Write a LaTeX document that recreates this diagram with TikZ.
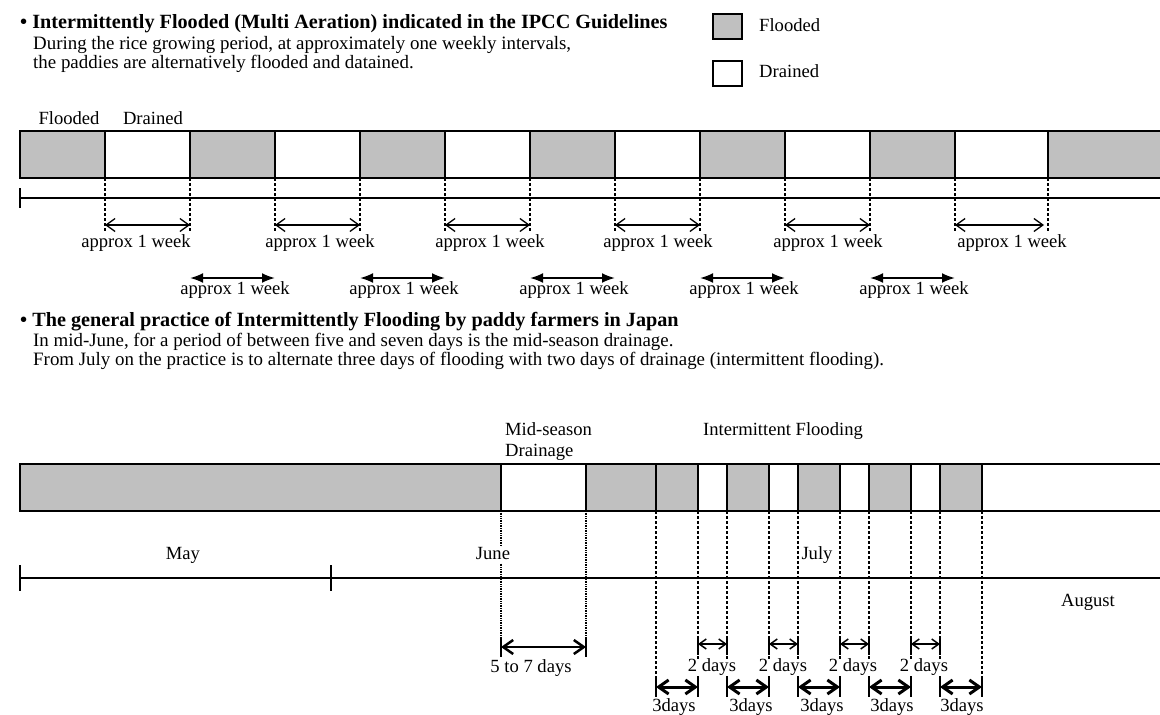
\documentclass[tikz,border=0pt]{standalone}
\usepackage{fontspec}
\setmainfont{Liberation Serif}
\usetikzlibrary{arrows.meta}
\definecolor{flood}{RGB}{192,192,192}
\tikzset{
  barline/.style={line width=2pt},
  guide/.style={line width=1.3pt, dash pattern=on 3pt off 2pt},
  dotguide/.style={line width=1.8pt, dash pattern=on 1pt off 0.7pt},
  tick/.style={line width=2pt},
  wkA/.style={line width=1.3pt, {Straight Barb[length=9pt,width=13pt]}-{Straight Barb[length=9pt,width=13pt]}},
  wkB/.style={line width=2pt, {Latex[length=13pt,width=10pt]}-{Latex[length=13pt,width=10pt]}},
  dA/.style={line width=2.5pt, {Straight Barb[length=10pt,width=14pt]}-{Straight Barb[length=10pt,width=14pt]}},
  dB/.style={line width=1.5pt, {Straight Barb[length=7pt,width=10pt]}-{Straight Barb[length=7pt,width=10pt]}},
  dC/.style={line width=3pt, {Straight Barb[length=10pt,width=14pt]}-{Straight Barb[length=10pt,width=14pt]}},
  lbl/.style={font=\fontsize{18.6}{20}\selectfont, inner sep=0pt, text height=12pt, text depth=4pt},
  wlbl/.style={lbl, fill=white, inner xsep=1pt},
  body/.style={font=\fontsize{18.9}{20}\selectfont, inner sep=0pt, anchor=west, text height=12pt, text depth=4pt},
  head/.style={font=\fontsize{20.2}{22}\selectfont\bfseries, inner sep=0pt, anchor=west, text height=13pt, text depth=4pt},
  legbox/.style={draw, line width=2.4pt, minimum width=29pt, minimum height=25pt, inner sep=0pt},
}
\begin{document}
\begin{tikzpicture}[x=1pt,y=-1pt]
\useasboundingbox (0,0) rectangle (1160,715);

% ---------- headings ----------
\node[head] (h1) at (20,24) {\textbullet\ Intermittently Flooded (Multi Aeration) indicated in the IPCC Guidelines};
\node[body] (b1) at (33,45) {During the rice growing period, at approximately one weekly intervals,};
\node[body] (b2) at (33,64) {the paddies are alternatively flooded and datained.};

% legend
\node[legbox, fill=flood] (lf) at (727.5,26.5) {};
\node[lbl, anchor=west] (lft) at (759,27) {Flooded};
\node[legbox, fill=white] (ld) at (727.5,73.5) {};
\node[lbl, anchor=west] (ldt) at (759,73) {Drained};

% ---------- top bar ----------
\node[lbl] (tf) at (69,120) {Flooded};
\node[lbl] (td) at (153,120) {Drained};
\foreach \a/\b in {20/105,190/275,360/445,530/615,700/785,870/955,1048/1160}
  \fill[flood] (\a,131) rectangle (\b,178);
\draw[barline] (1160,131) -- (20,131) -- (20,178) -- (1160,178);
\foreach \x in {105,190,275,360,445,530,615,700,785,870,955,1048}
  \draw[barline] (\x,131) -- (\x,178);

% timeline
\coordinate (tl0) at (20,198);
\coordinate (tl1) at (1160,198);
\draw[tick] (20,188) -- (20,208);
\draw[barline] (tl0) -- (tl1);

% guides
\foreach \x [count=\i] in {105,190,275,360,445,530,615,700,785,870,955,1048} {
  \coordinate (gt\i) at (\x,178);
  \coordinate (gb\i) at (\x,232);
  \draw[guide] (gt\i) -- (gb\i);
}

% row 1 arrows
\foreach \a/\b/\c [count=\i] in {105/190/136,275/360/320,445/530/490,615/700/658,785/870/828,955/1044/1012} {
  \coordinate (ra\i) at (\a,225);
  \coordinate (rb\i) at (\b,225);
  \draw[wkA] (ra\i) -- (rb\i);
  \node[lbl] (rl\i) at (\c,243) {approx 1 week};
}
% row 2 arrows
\foreach \a/\b/\c [count=\i] in {190/275/235,360/445/404,530/615/574,700/785/744,870/955/914} {
  \node[lbl] (sl\i) at (\c,290) {approx 1 week};
  \coordinate (sa\i) at (\a,278);
  \coordinate (sb\i) at (\b,278);
  \draw[wkB] (sa\i) -- (sb\i);
}

% ---------- second section ----------
\node[head] (h2) at (20,322) {\textbullet\ The general practice of Intermittently Flooding by paddy farmers in Japan};
\node[body] (c1) at (33,342) {In mid-June, for a period of between five and seven days is the mid-season drainage.};
\node[body] (c2) at (33,361) {From July on the practice is to alternate three days of flooding with two days of drainage (intermittent flooding).};

\node[lbl, anchor=west] (ms1) at (505,431) {Mid-season};
\node[lbl, anchor=west] (ms2) at (505,452) {Drainage};
\node[lbl, anchor=west] (itf) at (703,431) {Intermittent Flooding};

% bottom bar
\foreach \a/\b in {20/501,586/656,656/698,727/769,798/840,869/911,940/982}
  \fill[flood] (\a,464) rectangle (\b,511);
\draw[barline] (1160,464) -- (20,464) -- (20,511) -- (1160,511);
\foreach \x in {501,586,656,698,727,769,798,840,869,911,940,982}
  \draw[barline] (\x,464) -- (\x,511);

% bottom timeline
\coordinate (bl0) at (20,578);
\coordinate (bl1) at (1160,578);
\draw[barline] (bl0) -- (bl1);
\draw[tick] (20,565) -- (20,591);
\draw[tick] (331,565) -- (331,591);

% mid-season drainage guides
\draw[dotguide] (501,511) -- (501,637);
\draw[dotguide] (586,511) -- (586,637);
\draw[tick] (501,637) -- (501,657);
\draw[tick] (586,637) -- (586,657);
\coordinate (ma) at (501,647);
\coordinate (mb) at (586,647);
\draw[dA] (ma) -- (mb);
\node[lbl] (ml) at (531,668) {5 to 7 days};

% intermittent guides
\foreach \x in {656,698,727,769,798,840,869,911,940,982}
  \draw[guide] (\x,511) -- (\x,697);

% month labels
\node[lbl] (may) at (183,555) {May};
\node[wlbl] (jun) at (493,555) {June};
\node[lbl] (jul) at (817,555) {July};
\node[lbl] (aug) at (1088,602) {August};

% 2-day arrows
\foreach \a/\b/\c [count=\i] in {698/727/712,769/798/783,840/869/853,911/940/924} {
  \node[wlbl] (tl\i) at (\c,667) {2 days};
  \draw[tick] (\a,638) -- (\a,655);
  \draw[tick] (\b,638) -- (\b,655);
  \coordinate (ta\i) at (\a,644);
  \coordinate (tb\i) at (\b,644);
  \draw[dB] (ta\i) -- (tb\i);
}
% 3-day arrows
\foreach \a/\b/\c [count=\i] in {656/698/674,727/769/751,798/840/822,869/911/892,940/982/962} {
  \draw[tick] (\a,678) -- (\a,697);
  \draw[tick] (\b,678) -- (\b,697);
  \coordinate (ua\i) at (\a,687);
  \coordinate (ub\i) at (\b,687);
  \draw[dC] (ua\i) -- (ub\i);
  \node[lbl] (ul\i) at (\c,707) {3days};
}
\end{tikzpicture}
\end{document}
